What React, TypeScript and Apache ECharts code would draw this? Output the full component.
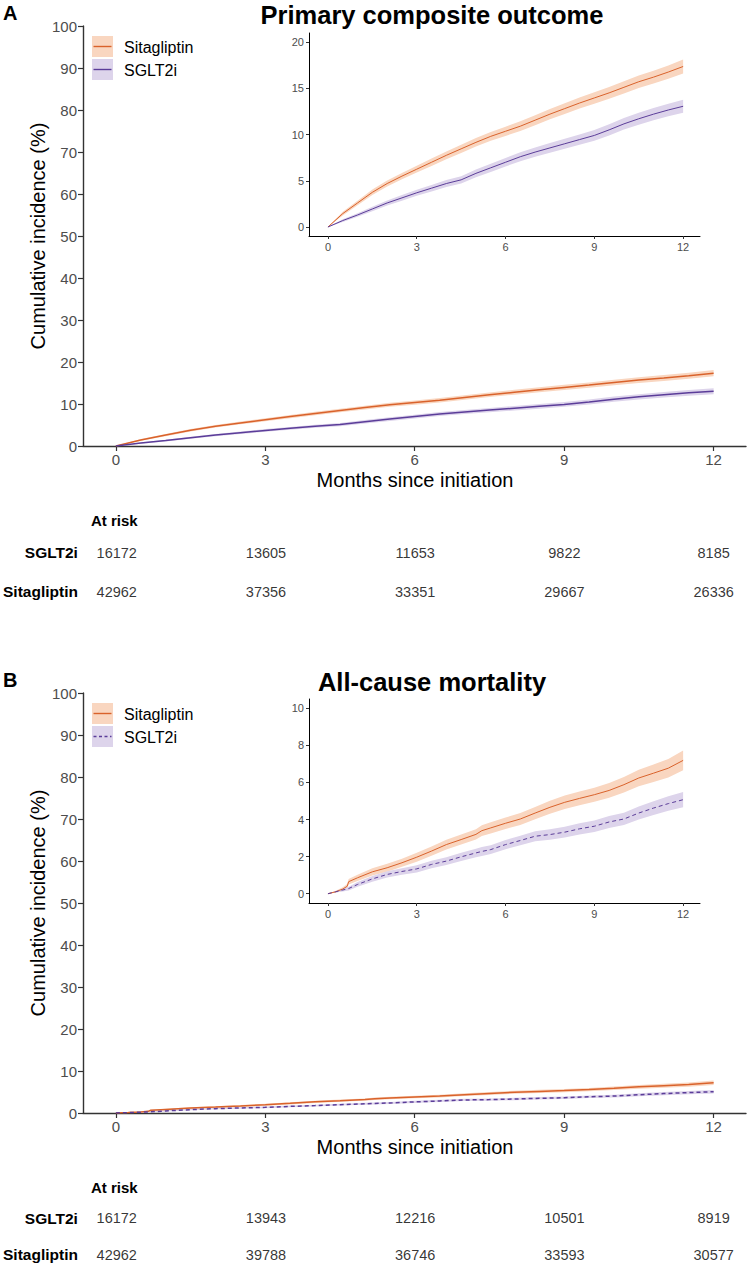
import React, { useEffect, useRef } from 'react';
import * as echarts from 'echarts';

const FONT = '"Liberation Sans", Arial, Helvetica, sans-serif';

const monthTicks = [0, 3, 6, 9, 12];
const insetATicks = [0, 5, 10, 15, 20];
const insetBTicks = [0, 2, 4, 6, 8, 10];

// Panel A: primary composite outcome
const timesA = [0, 0.5, 1, 1.5, 2, 2.5, 3, 3.5, 4, 4.5, 5, 5.5, 6, 6.5, 7, 7.5, 8, 8.5, 9, 9.5, 10, 10.5, 11, 11.5, 12];
const sitaA = [0, 1.45, 2.6, 3.75, 4.7, 5.5, 6.25, 7.0, 7.75, 8.45, 9.15, 9.8, 10.35, 10.9, 11.55, 12.2, 12.8, 13.4, 13.95, 14.5, 15.1, 15.7, 16.2, 16.75, 17.35];
const sitaALo = [0, 1.25, 2.35, 3.45, 4.38, 5.15, 5.88, 6.6, 7.33, 8.01, 8.69, 9.32, 9.85, 10.38, 11.01, 11.64, 12.22, 12.8, 13.33, 13.86, 14.44, 15.02, 15.5, 16.03, 16.6];
const sitaAHi = [0, 1.65, 2.85, 4.05, 5.02, 5.85, 6.62, 7.4, 8.17, 8.89, 9.61, 10.28, 10.85, 11.42, 12.09, 12.76, 13.38, 14.0, 14.57, 15.14, 15.76, 16.38, 16.9, 17.47, 18.1];
const sgltA = [0, 0.7, 1.3, 1.95, 2.6, 3.15, 3.7, 4.2, 4.7, 5.1, 5.8, 6.4, 7.0, 7.6, 8.1, 8.55, 9.0, 9.45, 9.9, 10.5, 11.15, 11.7, 12.2, 12.65, 13.05];
const sgltALo = [0, 0.55, 1.1, 1.7, 2.32, 2.85, 3.37, 3.85, 4.32, 4.7, 5.38, 5.96, 6.54, 7.12, 7.6, 8.03, 8.46, 8.89, 9.32, 9.9, 10.53, 11.06, 11.54, 11.97, 12.35];
const sgltAHi = [0, 0.85, 1.5, 2.2, 2.88, 3.45, 4.03, 4.55, 5.08, 5.5, 6.22, 6.84, 7.46, 8.08, 8.6, 9.07, 9.54, 10.01, 10.48, 11.1, 11.77, 12.34, 12.86, 13.33, 13.75];

// Panel B: all-cause mortality
const timesB = [0, 0.25, 0.5, 0.65, 0.7, 1, 1.5, 2, 2.5, 3, 3.5, 4, 4.5, 5, 5.2, 5.5, 6, 6.5, 7, 7.5, 8, 8.5, 9, 9.5, 10, 10.5, 11, 11.5, 12];
const sitaB = [0, 0.1, 0.25, 0.4, 0.65, 0.86, 1.18, 1.4, 1.67, 1.97, 2.3, 2.65, 2.92, 3.2, 3.4, 3.55, 3.8, 4.03, 4.35, 4.66, 4.93, 5.14, 5.34, 5.57, 5.88, 6.24, 6.5, 6.77, 7.19];
const sitaBLo = [0, 0.05, 0.15, 0.28, 0.5, 0.69, 0.98, 1.19, 1.45, 1.73, 2.05, 2.39, 2.65, 2.92, 3.11, 3.25, 3.49, 3.71, 4.02, 4.31, 4.57, 4.77, 4.96, 5.17, 5.46, 5.8, 6.03, 6.27, 6.66];
const sitaBHi = [0, 0.15, 0.35, 0.52, 0.8, 1.03, 1.38, 1.61, 1.89, 2.21, 2.55, 2.91, 3.19, 3.48, 3.69, 3.85, 4.11, 4.35, 4.68, 5.01, 5.29, 5.51, 5.72, 5.97, 6.3, 6.68, 6.97, 7.27, 7.72];
const sgltB = [0, 0.1, 0.2, 0.26, 0.28, 0.5, 0.8, 1.04, 1.2, 1.34, 1.58, 1.76, 1.99, 2.2, 2.28, 2.38, 2.65, 2.87, 3.1, 3.19, 3.32, 3.5, 3.64, 3.87, 4.03, 4.35, 4.62, 4.86, 5.07];
const sgltBLo = [0, 0.06, 0.12, 0.16, 0.18, 0.37, 0.65, 0.87, 1.02, 1.15, 1.38, 1.55, 1.77, 1.97, 2.04, 2.14, 2.4, 2.61, 2.83, 2.91, 3.03, 3.2, 3.33, 3.55, 3.7, 4.0, 4.25, 4.47, 4.66];
const sgltBHi = [0, 0.14, 0.28, 0.36, 0.38, 0.63, 0.95, 1.21, 1.38, 1.53, 1.78, 1.97, 2.21, 2.43, 2.52, 2.62, 2.9, 3.13, 3.37, 3.47, 3.61, 3.8, 3.95, 4.19, 4.36, 4.7, 4.99, 5.25, 5.48];

// Numbers at risk
const riskRows = ['Sitagliptin', 'SGLT2i'];
const atRiskASglt = [16172, 13605, 11653, 9822, 8185];
const atRiskASita = [42962, 37356, 33351, 29667, 26336];
const atRiskBSglt = [16172, 13943, 12216, 10501, 8919];
const atRiskBSita = [42962, 39788, 36746, 33593, 30577];

const ORANGE = '#D9622B';
const PURPLE = '#5B3D99';
const ORANGE_BAND = '#F9D6C0';
const PURPLE_BAND = '#DDD4EB';
const TICK_COL = '#4D4D4D';

function bandSeries(axis: number, times: number[], lo: number[], hi: number[], fill: string) {
  return {
    type: 'custom',
    xAxisIndex: axis,
    yAxisIndex: axis,
    silent: true,
    encode: { x: 0, y: [1, 2] },
    data: times.map((t, k) => [t, lo[k], hi[k]]),
    renderItem: (params: any, api: any) => {
      if (params.dataIndex !== 0) return null;
      const upper = times.map((t, k) => api.coord([t, hi[k]]));
      const lower = times.map((t, k) => api.coord([t, lo[k]])).reverse();
      return {
        type: 'polygon',
        shape: { points: upper.concat(lower) },
        style: { fill, stroke: 'none' },
      };
    },
  };
}

function lineSeries(axis: number, times: number[], est: number[], color: string, width: number, dashed: boolean) {
  return {
    type: 'line',
    xAxisIndex: axis,
    yAxisIndex: axis,
    silent: true,
    symbol: 'none',
    data: times.map((t, k) => [t, est[k]]),
    lineStyle: { color, width, type: dashed ? [4, 3] : 'solid' },
  };
}

function riskSeries(axis: number, sglt: number[], sita: number[]) {
  const data = monthTicks.map((t, k) => [t, 1, sglt[k]]).concat(monthTicks.map((t, k) => [t, 0, sita[k]]));
  return {
    type: 'scatter',
    xAxisIndex: axis,
    yAxisIndex: axis,
    silent: true,
    symbolSize: 1,
    itemStyle: { color: 'rgba(0,0,0,0)' },
    data,
    labelLayout: { hideOverlap: false },
    label: {
      show: true,
      position: 'inside',
      formatter: (p: any) => String(p.value[2]),
      color: '#000',
      fontSize: 14.5,
      fontFamily: FONT,
    },
  };
}

function mainX(grid: number) {
  return {
    gridIndex: grid,
    type: 'value',
    min: -0.66,
    max: 12.65,
    splitLine: { show: false },
    axisLine: { show: true, onZero: false, lineStyle: { color: '#333', width: 1.4 } },
    axisTick: { show: true, customValues: monthTicks, length: 5, lineStyle: { color: '#333', width: 1.2 } },
    axisLabel: { customValues: monthTicks, color: TICK_COL, fontSize: 15, fontFamily: FONT, margin: 6 },
  };
}
function mainY(grid: number) {
  return {
    gridIndex: grid,
    type: 'value',
    min: 0,
    max: 100,
    interval: 10,
    splitLine: { show: false },
    axisLine: { show: true, onZero: false, lineStyle: { color: '#333', width: 1.4 } },
    axisTick: { show: true, length: 5, lineStyle: { color: '#333', width: 1.2 } },
    axisLabel: { color: TICK_COL, fontSize: 15, fontFamily: FONT, margin: 6 },
  };
}
function insetX(grid: number) {
  return {
    gridIndex: grid,
    type: 'value',
    min: -0.64,
    max: 12.57,
    splitLine: { show: false },
    axisLine: { show: true, onZero: false, lineStyle: { color: '#000', width: 1 } },
    axisTick: { show: true, customValues: monthTicks, length: 3, lineStyle: { color: '#333', width: 1 } },
    axisLabel: { customValues: monthTicks, color: TICK_COL, fontSize: 11, fontFamily: FONT, margin: 5 },
  };
}
function insetY(grid: number, min: number, max: number, ticks: number[]) {
  return {
    gridIndex: grid,
    type: 'value',
    min,
    max,
    splitLine: { show: false },
    axisLine: { show: true, onZero: false, lineStyle: { color: '#000', width: 1 } },
    axisTick: { show: true, customValues: ticks, length: 3, lineStyle: { color: '#333', width: 1 } },
    axisLabel: { customValues: ticks, color: TICK_COL, fontSize: 11, fontFamily: FONT, margin: 5 },
  };
}
function tableX(grid: number) {
  return { gridIndex: grid, type: 'value', min: -0.66, max: 12.65, show: false };
}
function tableY(grid: number) {
  return {
    gridIndex: grid,
    type: 'category',
    data: riskRows,
    axisLine: { show: false },
    axisTick: { show: false },
    splitLine: { show: false },
    axisLabel: { color: '#000', fontWeight: 'bold', fontSize: 15.5, fontFamily: FONT, margin: 6 },
  };
}

function legendGraphics(top: number, dashedSglt: boolean) {
  return [
    { type: 'rect', shape: { x: 92, y: top, width: 21, height: 21 }, style: { fill: ORANGE_BAND } },
    { type: 'line', shape: { x1: 93.5, y1: top + 10.5, x2: 111.5, y2: top + 10.5 }, style: { stroke: ORANGE, lineWidth: 1.4 } },
    { type: 'rect', shape: { x: 92, y: top + 23, width: 21, height: 21 }, style: { fill: PURPLE_BAND } },
    {
      type: 'line',
      shape: { x1: 93.5, y1: top + 33.5, x2: 111.5, y2: top + 33.5 },
      style: { stroke: PURPLE, lineWidth: 1.4, lineDash: dashedSglt ? [3, 2.5] : null },
    },
    { type: 'text', x: 124, y: top + 11, style: { text: 'Sitagliptin', font: `16px ${FONT}`, fill: '#000', verticalAlign: 'middle' } },
    { type: 'text', x: 124, y: top + 34, style: { text: 'SGLT2i', font: `16px ${FONT}`, fill: '#000', verticalAlign: 'middle' } },
  ];
}

function panelGraphics(dy: number, letter: string, title: string, dashed: boolean) {
  return [
    { type: 'text', x: 3, y: 13 + dy, style: { text: letter, font: `bold 20px ${FONT}`, fill: '#000', verticalAlign: 'middle' } },
    { type: 'text', x: 432, y: 15 + dy, style: { text: title, font: `bold 25.5px ${FONT}`, fill: '#000', align: 'center', verticalAlign: 'middle' } },
    {
      type: 'text',
      x: 38,
      y: 236 + dy,
      rotation: Math.PI / 2,
      style: { text: 'Cumulative incidence (%)', font: `20px ${FONT}`, fill: '#000', align: 'center', verticalAlign: 'middle' },
    },
    { type: 'text', x: 415, y: 480 + dy, style: { text: 'Months since initiation', font: `20px ${FONT}`, fill: '#000', align: 'center', verticalAlign: 'middle' } },
    { type: 'text', x: 91, y: 520 + dy, style: { text: 'At risk', font: `bold 15px ${FONT}`, fill: '#000', verticalAlign: 'middle' } },
    ...legendGraphics(36 + dy, dashed),
  ];
}

export default function App() {
  const ref = useRef<HTMLDivElement>(null);
  useEffect(() => {
    document.body.style.margin = '0';
    if (!ref.current) return;
    const chart = echarts.init(ref.current, undefined, { renderer: 'svg' });
    const option: any = {
      animation: false,
      backgroundColor: '#fff',
      textStyle: { fontFamily: FONT },
      grid: [
        { left: 83, top: 26, width: 663, height: 420 },
        { left: 309, top: 33, width: 391, height: 203 },
        { left: 83, top: 533, width: 663, height: 78 },
        { left: 83, top: 693, width: 663, height: 420 },
        { left: 309, top: 699, width: 391, height: 204 },
        { left: 83, top: 1200, width: 663, height: 78 },
      ],
      xAxis: [mainX(0), insetX(1), tableX(2), mainX(3), insetX(4), tableX(5)],
      yAxis: [
        mainY(0),
        insetY(1, -0.97, 20.97, insetATicks),
        tableY(2),
        mainY(3),
        insetY(4, -0.5, 10.5, insetBTicks),
        tableY(5),
      ],
      series: [
        // Panel A main
        bandSeries(0, timesA, sitaALo, sitaAHi, ORANGE_BAND),
        bandSeries(0, timesA, sgltALo, sgltAHi, PURPLE_BAND),
        lineSeries(0, timesA, sitaA, ORANGE, 1.5, false),
        lineSeries(0, timesA, sgltA, PURPLE, 1.5, false),
        // Panel A inset
        bandSeries(1, timesA, sitaALo, sitaAHi, ORANGE_BAND),
        bandSeries(1, timesA, sgltALo, sgltAHi, PURPLE_BAND),
        lineSeries(1, timesA, sitaA, ORANGE, 1, false),
        lineSeries(1, timesA, sgltA, PURPLE, 1, false),
        riskSeries(2, atRiskASglt, atRiskASita),
        // Panel B main
        bandSeries(3, timesB, sitaBLo, sitaBHi, ORANGE_BAND),
        bandSeries(3, timesB, sgltBLo, sgltBHi, PURPLE_BAND),
        lineSeries(3, timesB, sitaB, ORANGE, 1.5, false),
        lineSeries(3, timesB, sgltB, PURPLE, 1.5, true),
        // Panel B inset
        bandSeries(4, timesB, sitaBLo, sitaBHi, ORANGE_BAND),
        bandSeries(4, timesB, sgltBLo, sgltBHi, PURPLE_BAND),
        lineSeries(4, timesB, sitaB, ORANGE, 1, false),
        lineSeries(4, timesB, sgltB, PURPLE, 1, true),
        riskSeries(5, atRiskBSglt, atRiskBSita),
      ],
      graphic: [
        ...panelGraphics(0, 'A', 'Primary composite outcome', false),
        ...panelGraphics(667, 'B', 'All-cause mortality', true),
      ],
    };
    chart.setOption(option);
    return () => chart.dispose();
  }, []);
  return <div ref={ref} style={{ width: 747, height: 1273 }} />;
}
